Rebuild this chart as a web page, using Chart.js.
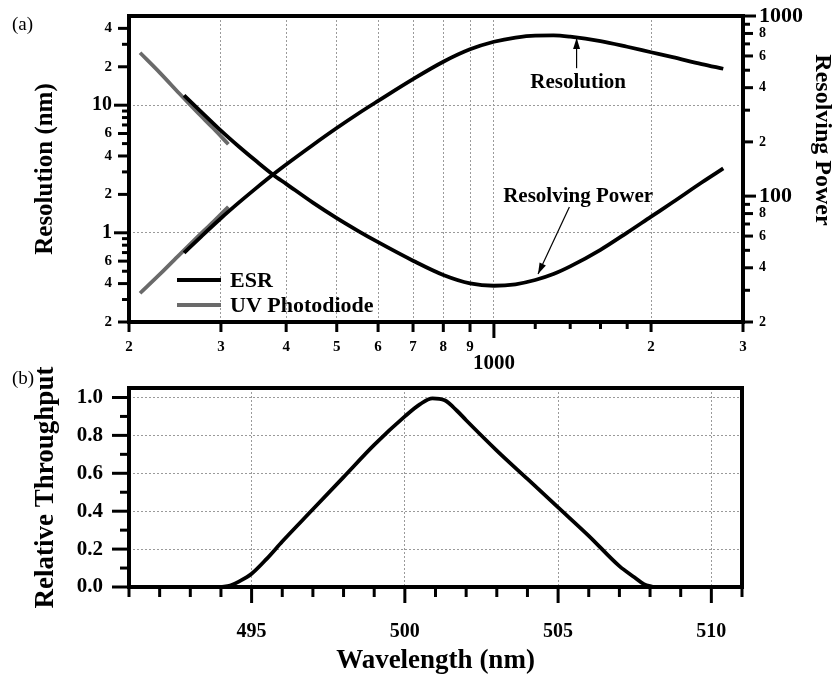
<!DOCTYPE html>
<html><head><meta charset="utf-8">
<script src="https://cdn.jsdelivr.net/npm/chart.js@4.4.0/dist/chart.umd.min.js"></script>
<style>
html,body{margin:0;padding:0;background:#fff;}
#wrap{position:relative;width:835px;height:677px;overflow:hidden;}
#c1{position:absolute;left:0;top:0;}
#c2{position:absolute;left:0;top:340px;}
</style></head><body>
<div id="wrap"><canvas id="c1" width="835" height="378"></canvas><canvas id="c2" width="835" height="337"></canvas></div>
<script>
// ---------------- DATA ----------------
// Panel (a): ESR spectrometer
const esrWavelength     = [255, 275, 300, 325, 350, 377, 400, 450, 500, 550, 600, 700, 800, 900, 1000, 1100, 1200, 1300, 1400, 1600, 1800, 2000, 2200, 2500, 2750];
const esrResolution     = [0.697, 0.935, 1.30, 1.73, 2.23, 2.85, 3.43, 4.88, 6.62, 8.61, 10.8, 16.0, 21.9, 27.4, 31.4, 33.9, 35.1, 35.2, 34.4, 31.8, 28.7, 26.0, 23.8, 21.0, 19.3];
const esrResolvingPower = [362, 294, 231, 188, 157, 132, 117, 92, 75.5, 64, 55.5, 43.8, 36.5, 32.8, 31.8, 32.4, 34.2, 36.9, 40.7, 50.3, 62.7, 76.9, 92.4, 119, 142.5];
// Panel (a): UV photodiode
const uvWavelength      = [210, 230, 250, 270, 290, 310];
const uvResolution      = [0.336, 0.48, 0.675, 0.92, 1.22, 1.6];
const uvResolvingPower  = [625, 479, 370, 293, 238, 194];
const seriesNames       = ['ESR', 'UV Photodiode'];

// Panel (a) axes
const topXTicks        = [200, 300, 400, 500, 600, 700, 800, 900, 1000, 1200, 1400, 1600, 1800, 2000, 3000];
const topXTickLabels   = ['2', '3', '4', '5', '6', '7', '8', '9', '1000', '', '', '', '', '2', '3'];
const leftYTicks       = [0.2, 0.3, 0.4, 0.5, 0.6, 0.7, 0.8, 0.9, 1, 2, 3, 4, 5, 6, 7, 8, 9, 10, 20, 30, 40];
const leftYTickLabels  = ['2', '', '4', '', '6', '', '', '', '1', '2', '', '4', '', '6', '', '', '', '10', '2', '', '4'];
const rightYTicks      = [20, 30, 40, 50, 60, 70, 80, 90, 100, 200, 300, 400, 500, 600, 700, 800, 900, 1000];
const rightYTickLabels = ['2', '', '4', '', '6', '', '8', '', '100', '2', '', '4', '', '6', '', '8', '', '1000'];

// Panel (b): throughput
const throughputWavelength = [494.0, 494.3, 494.6, 495.0, 495.5, 496.0, 497.0, 498.0, 499.0, 500.0, 500.5, 500.9, 501.3, 501.7, 502.0, 503.0, 504.0, 505.0, 506.0, 507.0, 507.5, 507.8, 508.1];
const throughputValue      = [0.0, 0.008, 0.03, 0.07, 0.15, 0.24, 0.41, 0.58, 0.75, 0.90, 0.965, 0.995, 0.985, 0.93, 0.88, 0.72, 0.57, 0.42, 0.27, 0.11, 0.05, 0.015, 0.0];
const bottomXTicks      = [491, 492, 493, 494, 495, 496, 497, 498, 499, 500, 501, 502, 503, 504, 505, 506, 507, 508, 509, 510, 511];
const bottomXTickLabels = ['', '', '', '', '495', '', '', '', '', '500', '', '', '', '', '505', '', '', '', '', '510', ''];
const bottomYTicks      = [0, 0.1, 0.2, 0.3, 0.4, 0.5, 0.6, 0.7, 0.8, 0.9, 1.0];
const bottomYTickLabels = ['0.0', '', '0.2', '', '0.4', '', '0.6', '', '0.8', '', '1.0'];

// ---------------- STYLE ----------------
const SERIF = "'Liberation Serif', 'Times New Roman', serif";
const GRID_COLOR = '#9a9a9a';
const TRANSPARENT = 'rgba(0,0,0,0)';
const topXGrid = [300, 400, 500, 600, 700, 800, 900, 1000, 2000];
const leftYGrid = [1, 10];
const bottomXGrid = [495, 500, 505, 510];
const bottomYGrid = [0.2, 0.4, 0.6, 0.8, 1.0];

function near(a, b) { return Math.abs(a - b) < 1e-9 * Math.max(1, Math.abs(b)); }
function inList(list, v) { return v !== undefined && list.some(g => near(g, v)); }
function tv(c) { return c && c.tick ? c.tick.value : undefined; }
function bold(size, lh) { const f = {family: SERIF, size: size, weight: 'bold'}; if (lh) f.lineHeight = lh; return f; }
function fixSize(prop, val) {
  return s => { s[prop] = val; s.paddingTop = 0; s.paddingBottom = 0; s.paddingLeft = 0; s.paddingRight = 0; };
}

function gridOpts(list) {
  return {
    drawTicks: false,
    color: c => inList(list, tv(c)) ? GRID_COLOR : TRANSPARENT,
    lineWidth: c => inList(list, tv(c)) ? 1 : 0
  };
}

// draws frame + outward tick marks for every scale
function frameAndTicks(lenFns) {
  return {
    id: 'frameAndTicks',
    afterDraw(chart) {
      const ctx = chart.ctx, ca = chart.chartArea;
      ctx.save();
      ctx.strokeStyle = '#000';
      ctx.lineCap = 'butt';
      ctx.lineWidth = 3;
      for (const id in lenFns) {
        const s = chart.scales[id];
        if (!s) continue;
        s.ticks.forEach((t, i) => {
          const p = s.getPixelForValue(t.value);
          const L = lenFns[id](t.value, i);
          ctx.beginPath();
          if (s.position === 'bottom') { ctx.moveTo(p, ca.bottom); ctx.lineTo(p, ca.bottom + L); }
          else if (s.position === 'left') { ctx.moveTo(ca.left, p); ctx.lineTo(ca.left - L, p); }
          else if (s.position === 'right') { ctx.moveTo(ca.right, p); ctx.lineTo(ca.right + L, p); }
          ctx.stroke();
        });
      }
      ctx.lineWidth = 4;
      ctx.strokeRect(ca.left, ca.top, ca.right - ca.left, ca.bottom - ca.top);
      ctx.restore();
    }
  };
}

function arrow(ctx, x1, y1, x2, y2) {
  ctx.beginPath(); ctx.moveTo(x1, y1); ctx.lineTo(x2, y2); ctx.stroke();
  const a = Math.atan2(y2 - y1, x2 - x1), L = 11, W = 3.5;
  ctx.beginPath();
  ctx.moveTo(x2, y2);
  ctx.lineTo(x2 - L * Math.cos(a) + W * Math.sin(a), y2 - L * Math.sin(a) - W * Math.cos(a));
  ctx.lineTo(x2 - L * Math.cos(a) - W * Math.sin(a), y2 - L * Math.sin(a) + W * Math.cos(a));
  ctx.closePath(); ctx.fill();
}

const topDecorations = {
  id: 'topDecorations',
  afterDraw(chart) {
    const ctx = chart.ctx, ca = chart.chartArea;
    const xs = chart.scales.x, yl = chart.scales.y, yr = chart.scales.y2;
    ctx.save();
    ctx.fillStyle = '#000'; ctx.strokeStyle = '#000';
    // panel label
    ctx.font = "19px " + SERIF; ctx.textAlign = 'left'; ctx.textBaseline = 'middle';
    ctx.fillText('(a)', 12, 25);
    // right axis title
    ctx.save();
    ctx.translate(chart.width - 13, 140);
    ctx.rotate(Math.PI / 2);
    ctx.font = "bold 24px " + SERIF; ctx.textAlign = 'center'; ctx.textBaseline = 'middle';
    ctx.fillText('Resolving Power', 0, 0);
    ctx.restore();
    // annotations
    ctx.font = "bold 21px " + SERIF; ctx.textAlign = 'center'; ctx.textBaseline = 'middle';
    ctx.fillText('Resolution', xs.getPixelForValue(1450), yl.getPixelForValue(15));
    ctx.lineWidth = 1.2;
    arrow(ctx, xs.getPixelForValue(1440), yl.getPixelForValue(19.5), xs.getPixelForValue(1440), yl.getPixelForValue(33.6));
    ctx.fillText('Resolving Power', xs.getPixelForValue(1450), yr.getPixelForValue(99));
    arrow(ctx, xs.getPixelForValue(1395), yr.getPixelForValue(87), xs.getPixelForValue(1215), yr.getPixelForValue(37));
    // legend
    const names = seriesNames;
    const colors = ['#000', '#6a6a6a'];
    const rows = [ca.bottom - 42, ca.bottom - 17];
    ctx.font = "bold 22px " + SERIF; ctx.textAlign = 'left';
    for (let i = 0; i < names.length; i++) {
      ctx.strokeStyle = colors[i]; ctx.lineWidth = 4;
      ctx.beginPath(); ctx.moveTo(ca.left + 48, rows[i]); ctx.lineTo(ca.left + 92, rows[i]); ctx.stroke();
      ctx.fillStyle = '#000';
      ctx.fillText(names[i], ca.left + 101, rows[i] + 1);
    }
    ctx.restore();
  }
};

const bottomDecorations = {
  id: 'bottomDecorations',
  afterDraw(chart) {
    const ctx = chart.ctx;
    ctx.save();
    ctx.fillStyle = '#000';
    ctx.font = "19px " + SERIF; ctx.textAlign = 'left'; ctx.textBaseline = 'middle';
    ctx.fillText('(b)', 12, 39);
    ctx.restore();
  }
};

function pts(xs, ys) { return xs.map((x, i) => ({x: x, y: ys[i]})); }

const lineBase = {pointRadius: 0, fill: false, borderCapStyle: 'butt', cubicInterpolationMode: 'monotone', borderWidth: 3.8};

new Chart(document.getElementById('c1'), {
  type: 'line',
  data: {
    datasets: [
      Object.assign({label: seriesNames[0] + ' resolution', data: pts(esrWavelength, esrResolution), borderColor: '#000', yAxisID: 'y', order: 1}, lineBase),
      Object.assign({label: seriesNames[0] + ' resolving power', data: pts(esrWavelength, esrResolvingPower), borderColor: '#000', yAxisID: 'y2', order: 1}, lineBase),
      Object.assign({label: seriesNames[1] + ' resolution', data: pts(uvWavelength, uvResolution), borderColor: '#6a6a6a', yAxisID: 'y', order: 2}, lineBase),
      Object.assign({label: seriesNames[1] + ' resolving power', data: pts(uvWavelength, uvResolvingPower), borderColor: '#6a6a6a', yAxisID: 'y2', order: 2}, lineBase)
    ]
  },
  options: {
    responsive: false, animation: false, events: [],
    layout: {padding: {top: 16, left: 0, right: 0, bottom: 0}},
    plugins: {legend: {display: false}, tooltip: {enabled: false}},
    scales: {
      x: {
        type: 'logarithmic', position: 'bottom', min: 200, max: 3000,
        afterBuildTicks: s => { s.ticks = topXTicks.map(v => ({value: v})); },
        afterFit: fixSize('height', 56),
        grid: gridOpts(topXGrid),
        border: {display: false, dash: [2, 2]},
        ticks: {
          autoSkip: false, maxRotation: 0, minRotation: 0, padding: 16, color: '#000',
          font: c => tv(c) === 1000 ? bold(21, 0.8) : bold(15),
          callback: (v, i) => topXTickLabels[i] === '1000' ? ['', topXTickLabels[i]] : topXTickLabels[i]
        }
      },
      y: {
        type: 'logarithmic', position: 'left', min: 0.2, max: 50,
        afterBuildTicks: s => { s.ticks = leftYTicks.map(v => ({value: v})); },
        afterFit: fixSize('width', 129),
        grid: gridOpts(leftYGrid),
        border: {display: false, dash: [2, 2]},
        ticks: {
          autoSkip: false, padding: 17, color: '#000',
          font: c => (tv(c) === 1 || tv(c) === 10) ? bold(20) : bold(15),
          callback: (v, i) => leftYTickLabels[i]
        },
        title: {display: true, text: 'Resolution (nm)', color: '#000', font: bold(25), padding: {top: 31, bottom: 0}}
      },
      y2: {
        type: 'logarithmic', position: 'right', min: 20, max: 1000,
        afterBuildTicks: s => { s.ticks = rightYTicks.map(v => ({value: v})); },
        afterFit: fixSize('width', 92),
        grid: {display: false, drawTicks: false},
        border: {display: false},
        ticks: {
          autoSkip: false, padding: 16, color: '#000',
          font: c => (tv(c) === 100 || tv(c) === 1000) ? bold(22) : bold(14),
          callback: (v, i) => rightYTickLabels[i]
        }
      }
    }
  },
  plugins: [frameAndTicks({
    x: (v, i) => v === 1000 ? 16 : (topXTickLabels[i] ? 10 : 7),
    y: (v, i) => (v === 1 || v === 10) ? 15 : (leftYTickLabels[i] ? 11 : 7),
    y2: (v, i) => (v === 100 || v === 1000) ? 13 : (rightYTickLabels[i] ? 10 : 7)
  }), topDecorations]
});

new Chart(document.getElementById('c2'), {
  type: 'line',
  data: {
    datasets: [
      Object.assign({label: 'Relative Throughput', data: pts(throughputWavelength, throughputValue), borderColor: '#000'}, lineBase)
    ]
  },
  options: {
    responsive: false, animation: false, events: [],
    layout: {padding: {top: 48, left: 0, right: 93, bottom: 0}},
    plugins: {legend: {display: false}, tooltip: {enabled: false}},
    scales: {
      x: {
        type: 'linear', position: 'bottom', min: 491, max: 511,
        afterBuildTicks: s => { s.ticks = bottomXTicks.map(v => ({value: v})); },
        afterFit: fixSize('height', 90),
        grid: gridOpts(bottomXGrid),
        border: {display: false, dash: [2, 2]},
        ticks: {autoSkip: false, maxRotation: 0, minRotation: 0, padding: 33, color: '#000', font: bold(20),
          callback: (v, i) => bottomXTickLabels[i]},
        title: {display: true, text: 'Wavelength (nm)', color: '#000', font: bold(27), padding: {top: 0, bottom: 0}}
      },
      y: {
        type: 'linear', position: 'left', min: 0, max: 1.05,
        afterBuildTicks: s => { s.ticks = bottomYTicks.map(v => ({value: v})); },
        afterFit: fixSize('width', 129),
        grid: gridOpts(bottomYGrid),
        border: {display: false, dash: [2, 2]},
        ticks: {autoSkip: false, padding: 26, color: '#000', font: bold(21),
          callback: (v, i) => bottomYTickLabels[i]},
        title: {display: true, text: 'Relative Throughput', color: '#000', font: bold(27), padding: {top: 30, bottom: 0}}
      }
    }
  },
  plugins: [frameAndTicks({
    x: (v, i) => bottomXTickLabels[i] ? 16 : 10,
    y: (v, i) => bottomYTickLabels[i] ? 17 : 9
  }), bottomDecorations]
});
</script>
</body></html>
